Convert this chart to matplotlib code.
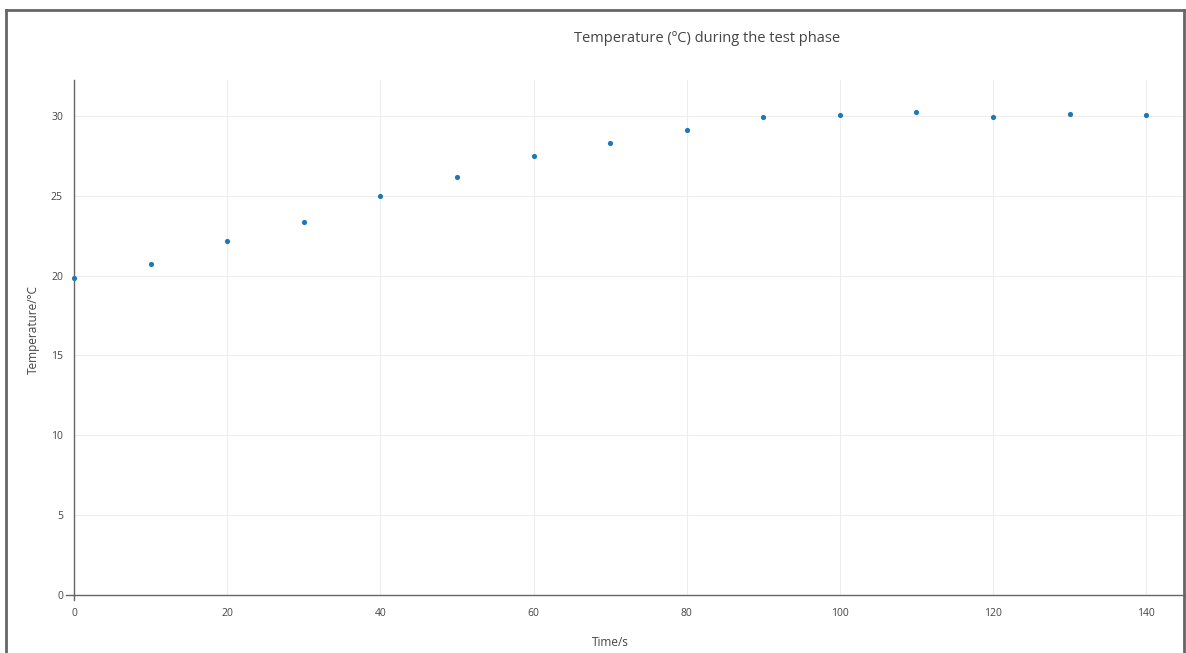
import matplotlib
matplotlib.use("Agg")
import matplotlib.pyplot as plt
from matplotlib.lines import Line2D

plt.rcParams['font.family'] = ['Open Sans', 'DejaVu Sans']

time_s = [0, 10, 20, 30, 40, 50, 60, 70, 80, 90, 100, 110, 120, 130, 140]
temp_c = [19.85, 20.75, 22.17, 23.37, 24.98, 26.17, 27.48, 28.3, 29.1, 29.94,
          30.06, 30.24, 29.93, 30.12, 30.07]
x_ticks = [0, 20, 40, 60, 80, 100, 120, 140]
y_ticks = [0, 5, 10, 15, 20, 25, 30]

W, H = 1186, 653
fig = plt.figure(figsize=(W / 100, H / 100), dpi=100)
ax = fig.add_axes([74 / W, 1 - 595 / H, (1186 - 74) / W, (595 - 80) / H])

ax.scatter(time_s, temp_c, s=14, color='#1f77b4', zorder=3, clip_on=False, linewidths=0)

ax.set_xlim(0, 145.2)
ax.set_ylim(0, 32.25)
ax.set_xticks(x_ticks)
ax.set_yticks(y_ticks)
ax.grid(True, color='#eeeeee', linewidth=0.8)
ax.set_axisbelow(True)

for side in ['top', 'right']:
    ax.spines[side].set_visible(False)
for side in ['left', 'bottom']:
    ax.spines[side].set_color('#666666')
    ax.spines[side].set_linewidth(1.0)
ax.tick_params(axis='x', length=0, labelsize=7.5, labelcolor='#444444', pad=9)
ax.tick_params(axis='y', length=0, labelsize=7.5, labelcolor='#444444', pad=8)

# small ticks at the origin only, like the reference
ax.plot([0, 0], [0, -0.3], color='#666666', lw=1, clip_on=False)
ax.plot([-1.0, 0], [0, 0], color='#666666', lw=1, clip_on=False)

ax.set_xlabel('Time/s', fontsize=8.5, color='#444444', va='center')
ax.xaxis.set_label_coords((610 - 74) / 1112, -(643 - 595) / 515)
ax.set_ylabel('Temperature/°C', fontsize=8.5, color='#444444', va='center')
ax.yaxis.set_label_coords(-(74 - 33) / 1112, (595 - 330) / 515)

fig.text(707 / W, 1 - 38 / H, 'Temperature (ºC) during the test phase',
         ha='center', va='center', fontsize=10.5, color='#444444')

# outer frame
frame_kw = dict(color='#666666', linewidth=2.0, transform=fig.transFigure)
fig.add_artist(Line2D([6 / W, 1184 / W], [1 - 10 / H, 1 - 10 / H], **frame_kw))
fig.add_artist(Line2D([6 / W, 6 / W], [0, 1 - 10 / H], **frame_kw))
fig.add_artist(Line2D([1184 / W, 1184 / W], [0, 1 - 10 / H], **frame_kw))

fig.savefig('out.png', dpi=100)
